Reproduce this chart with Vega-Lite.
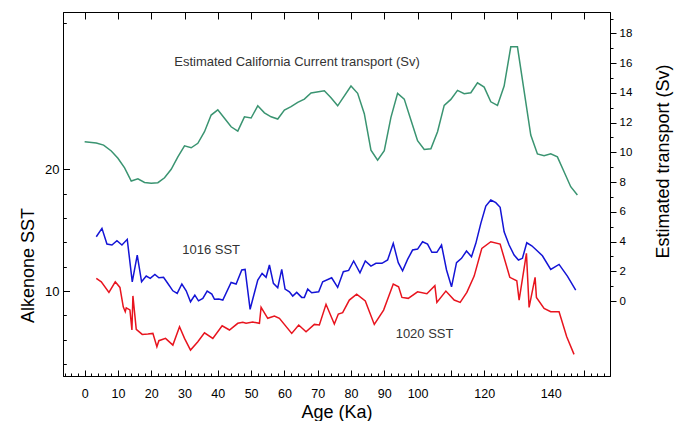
{
  "$schema": "https://vega.github.io/schema/vega-lite/v6.json",
  "width": 547,
  "height": 364,
  "autosize": {"type": "none"},
  "padding": {"left": 63, "top": 12, "right": 67, "bottom": 45},
  "background": "white",
  "view": {"stroke": "black", "strokeWidth": 1},
  "config": {"font": "Liberation Sans"},
  "datasets": {
    "transport": [
      {"age": 0, "sv": 10.71}, {"age": 3.5, "sv": 10.63}, {"age": 5.7, "sv": 10.49}, {"age": 8, "sv": 10.09},
      {"age": 10, "sv": 9.6}, {"age": 12, "sv": 8.96}, {"age": 14, "sv": 8.07}, {"age": 16, "sv": 8.22},
      {"age": 18, "sv": 7.98}, {"age": 20, "sv": 7.92}, {"age": 22, "sv": 7.96}, {"age": 24, "sv": 8.29},
      {"age": 26, "sv": 8.86}, {"age": 28, "sv": 9.7}, {"age": 30, "sv": 10.44}, {"age": 32, "sv": 10.31},
      {"age": 34, "sv": 10.61}, {"age": 36, "sv": 11.39}, {"age": 38, "sv": 12.51}, {"age": 40, "sv": 12.86},
      {"age": 42, "sv": 12.29}, {"age": 44, "sv": 11.72}, {"age": 46, "sv": 11.43}, {"age": 48, "sv": 12.39},
      {"age": 50, "sv": 12.31}, {"age": 52, "sv": 13.13}, {"age": 54, "sv": 12.66}, {"age": 56, "sv": 12.39},
      {"age": 58, "sv": 12.24}, {"age": 60, "sv": 12.84}, {"age": 62, "sv": 13.07}, {"age": 64, "sv": 13.36},
      {"age": 66, "sv": 13.58}, {"age": 68, "sv": 13.99}, {"age": 72, "sv": 14.14}, {"age": 74, "sv": 13.67},
      {"age": 76, "sv": 13.13}, {"age": 80, "sv": 14.46}, {"age": 82, "sv": 13.97}, {"age": 84, "sv": 12.6},
      {"age": 86, "sv": 10.15}, {"age": 88, "sv": 9.48}, {"age": 90, "sv": 10.11}, {"age": 92, "sv": 12.35},
      {"age": 94, "sv": 13.97}, {"age": 96, "sv": 13.58}, {"age": 98, "sv": 12.17}, {"age": 100, "sv": 10.78},
      {"age": 102, "sv": 10.2}, {"age": 104, "sv": 10.24}, {"age": 106, "sv": 11.39}, {"age": 108, "sv": 13.16},
      {"age": 110, "sv": 13.56}, {"age": 112, "sv": 14.17}, {"age": 114, "sv": 13.94}, {"age": 116, "sv": 14.01},
      {"age": 118, "sv": 14.68}, {"age": 120, "sv": 14.39}, {"age": 122, "sv": 13.4}, {"age": 124, "sv": 13.16},
      {"age": 126, "sv": 14.46}, {"age": 128, "sv": 17.1}, {"age": 130, "sv": 17.1}, {"age": 134, "sv": 11.16},
      {"age": 136, "sv": 9.89}, {"age": 138, "sv": 9.77}, {"age": 140, "sv": 9.91}, {"age": 142, "sv": 9.7},
      {"age": 144, "sv": 8.7}, {"age": 146, "sv": 7.69}, {"age": 148, "sv": 7.13}
    ],
    "sst1016": [
      {"age": 3.5, "sst": 14.46}, {"age": 5.2, "sst": 15.15}, {"age": 6.7, "sst": 13.86}, {"age": 8.2, "sst": 13.78},
      {"age": 9.7, "sst": 14.13}, {"age": 11.2, "sst": 13.78}, {"age": 12.8, "sst": 14.25}, {"age": 14.3, "sst": 10.76},
      {"age": 15.8, "sst": 12.96}, {"age": 17.1, "sst": 10.76}, {"age": 18.5, "sst": 11.23}, {"age": 19.7, "sst": 11.04},
      {"age": 21.1, "sst": 11.37}, {"age": 22.3, "sst": 11.09}, {"age": 23.7, "sst": 11.13}, {"age": 25.1, "sst": 10.58},
      {"age": 26.5, "sst": 10.02}, {"age": 27.8, "sst": 9.81}, {"age": 29.2, "sst": 10.58}, {"age": 30.5, "sst": 10.02},
      {"age": 31.8, "sst": 9.12}, {"age": 33.1, "sst": 9.67}, {"age": 34.2, "sst": 9.2}, {"age": 35.5, "sst": 9.4},
      {"age": 36.8, "sst": 10.0}, {"age": 38.2, "sst": 9.75}, {"age": 39.0, "sst": 9.32}, {"age": 40.3, "sst": 9.34},
      {"age": 41.5, "sst": 9.26}, {"age": 44.0, "sst": 10.71}, {"age": 45.5, "sst": 10.58}, {"age": 47.2, "sst": 11.73},
      {"age": 48.2, "sst": 11.78}, {"age": 49.7, "sst": 8.5}, {"age": 52.0, "sst": 10.9}, {"age": 53.3, "sst": 11.45},
      {"age": 54.5, "sst": 11.13}, {"age": 55.5, "sst": 12.14}, {"age": 56.7, "sst": 10.63}, {"age": 58.0, "sst": 10.27},
      {"age": 59.2, "sst": 11.78}, {"age": 60.2, "sst": 10.16}, {"age": 61.5, "sst": 9.94}, {"age": 62.5, "sst": 9.59},
      {"age": 63.7, "sst": 9.89}, {"age": 65.2, "sst": 9.48}, {"age": 66.0, "sst": 9.48}, {"age": 67.0, "sst": 10.16},
      {"age": 68.2, "sst": 9.86}, {"age": 70.3, "sst": 9.94}, {"age": 71.5, "sst": 10.76}, {"age": 74.2, "sst": 11.09},
      {"age": 76.0, "sst": 10.3}, {"age": 77.7, "sst": 11.59}, {"age": 79.3, "sst": 11.7}, {"age": 80.8, "sst": 12.47},
      {"age": 82.7, "sst": 11.5}, {"age": 84.3, "sst": 12.47}, {"age": 86.0, "sst": 12.05}, {"age": 87.5, "sst": 12.28},
      {"age": 89.3, "sst": 12.28}, {"age": 91.0, "sst": 12.55}, {"age": 92.7, "sst": 13.92}, {"age": 94.2, "sst": 12.33},
      {"age": 95.5, "sst": 11.67}, {"age": 97.0, "sst": 12.6}, {"age": 98.5, "sst": 13.37}, {"age": 100.0, "sst": 13.45},
      {"age": 101.5, "sst": 14.05}, {"age": 103.0, "sst": 13.86}, {"age": 104.3, "sst": 13.18}, {"age": 105.8, "sst": 13.18},
      {"age": 107.2, "sst": 13.78}, {"age": 108.7, "sst": 11.73}, {"age": 110.2, "sst": 10.35}, {"age": 111.7, "sst": 12.33},
      {"age": 113.2, "sst": 12.69}, {"age": 114.7, "sst": 13.29}, {"age": 116.2, "sst": 12.82}, {"age": 117.5, "sst": 13.92},
      {"age": 119.0, "sst": 15.56}, {"age": 120.5, "sst": 16.98}, {"age": 122.0, "sst": 17.48}, {"age": 123.5, "sst": 17.26},
      {"age": 124.8, "sst": 16.88}, {"age": 126.0, "sst": 14.87}, {"age": 127.5, "sst": 13.78}, {"age": 129.0, "sst": 12.96},
      {"age": 130.3, "sst": 12.55}, {"age": 131.5, "sst": 12.69}, {"age": 132.8, "sst": 13.97}, {"age": 134.3, "sst": 13.72},
      {"age": 136.0, "sst": 13.29}, {"age": 137.5, "sst": 12.9}, {"age": 140.0, "sst": 11.78}, {"age": 142.5, "sst": 12.19},
      {"age": 145.0, "sst": 11.23}, {"age": 147.5, "sst": 10.08}
    ],
    "sst1020": [
      {"age": 3.5, "sst": 11.04}, {"age": 5.0, "sst": 10.76}, {"age": 7.3, "sst": 9.89}, {"age": 9.2, "sst": 10.76},
      {"age": 10.6, "sst": 10.3}, {"age": 11.6, "sst": 8.7}, {"age": 12.2, "sst": 8.3}, {"age": 12.5, "sst": 8.62},
      {"age": 13.6, "sst": 8.45}, {"age": 14.2, "sst": 6.8}, {"age": 14.5, "sst": 9.6}, {"age": 15.5, "sst": 6.85},
      {"age": 17.3, "sst": 6.44}, {"age": 19.0, "sst": 6.47}, {"age": 20.5, "sst": 6.52}, {"age": 21.7, "sst": 5.42},
      {"age": 22.3, "sst": 5.92}, {"age": 24.3, "sst": 6.11}, {"age": 26.5, "sst": 5.56}, {"age": 28.5, "sst": 7.07},
      {"age": 30.0, "sst": 6.11}, {"age": 31.8, "sst": 5.15}, {"age": 34.0, "sst": 5.83}, {"age": 36.0, "sst": 6.57},
      {"age": 38.5, "sst": 6.11}, {"age": 41.3, "sst": 7.15}, {"age": 43.5, "sst": 6.8}, {"age": 46.0, "sst": 7.35},
      {"age": 47.5, "sst": 7.43}, {"age": 48.5, "sst": 7.35}, {"age": 50.5, "sst": 7.45}, {"age": 52.5, "sst": 7.35},
      {"age": 53.0, "sst": 8.66}, {"age": 55.0, "sst": 7.76}, {"age": 57.0, "sst": 7.95}, {"age": 58.5, "sst": 7.76},
      {"age": 62.2, "sst": 6.52}, {"age": 64.3, "sst": 7.21}, {"age": 66.5, "sst": 6.66}, {"age": 69.0, "sst": 7.26},
      {"age": 70.5, "sst": 7.21}, {"age": 72.5, "sst": 8.91}, {"age": 75.0, "sst": 7.29}, {"age": 76.2, "sst": 8.11},
      {"age": 77.5, "sst": 8.22}, {"age": 79.5, "sst": 9.26}, {"age": 81.7, "sst": 9.75}, {"age": 84.3, "sst": 9.18},
      {"age": 87.0, "sst": 7.26}, {"age": 89.8, "sst": 8.44}, {"age": 92.7, "sst": 10.58}, {"age": 94.3, "sst": 10.35},
      {"age": 95.3, "sst": 9.48}, {"age": 97.2, "sst": 9.4}, {"age": 100.0, "sst": 9.94}, {"age": 102.8, "sst": 9.78},
      {"age": 105.2, "sst": 10.44}, {"age": 105.8, "sst": 9.07}, {"age": 108.5, "sst": 10.0}, {"age": 111.0, "sst": 9.26},
      {"age": 112.8, "sst": 9.07}, {"age": 114.8, "sst": 9.89}, {"age": 117.0, "sst": 11.23}, {"age": 119.3, "sst": 13.51},
      {"age": 122.0, "sst": 14.05}, {"age": 124.8, "sst": 13.86}, {"age": 127.7, "sst": 11.13}, {"age": 129.8, "sst": 10.85},
      {"age": 130.5, "sst": 9.26}, {"age": 132.7, "sst": 13.1}, {"age": 133.5, "sst": 8.66}, {"age": 135.3, "sst": 11.13},
      {"age": 135.7, "sst": 9.48}, {"age": 138.0, "sst": 8.58}, {"age": 140.0, "sst": 8.3}, {"age": 142.5, "sst": 8.3},
      {"age": 144.8, "sst": 6.24}, {"age": 147.0, "sst": 4.8}
    ],
    "labels": [
      {"age": 63.8, "sst": 28.82, "text": "Estimated California Current transport (Sv)"},
      {"age": 38.0, "sst": 13.41, "text": "1016 SST"},
      {"age": 102.1, "sst": 6.49, "text": "1020 SST"}
    ]
  },
  "layer": [
    {
      "data": {"name": "transport"},
      "mark": {"type": "line", "color": "#3a9471", "strokeWidth": 1.5},
      "encoding": {
        "x": {
          "field": "age", "type": "quantitative",
          "scale": {"domain": [-6.5, 157.8], "nice": false, "zero": false},
          "axis": {
            "orient": "bottom",
            "values": [-6,-4,-2,0,2,4,6,8,10,12,14,16,18,20,22,24,26,28,30,32,34,36,38,40,42,44,46,48,50,52,54,56,58,60,62,64,66,68,70,72,74,76,78,80,82,84,86,88,90,92,94,96,98,100,102,104,106,108,110,112,114,116,118,120,122,124,126,128,130,132,134,136,138,140,142,144,146,148,150,152,154,156],
            "tickSize": {"condition": {"test": "datum.value % 10 === 0", "value": -6}, "value": -3},
            "labelExpr": "(datum.value % 10 === 0 && datum.value >= 0 && datum.value <= 140 && datum.value !== 110 && datum.value !== 130) ? datum.label : ''",
            "labelPadding": 17,
            "labelFontSize": 12.5,
            "labelColor": "#000",
            "labelFlush": false,
            "labelOverlap": false,
            "labelBound": false,
            "domainColor": "#000",
            "tickColor": "#000",
            "grid": false,
            "title": "Age (Ka)",
            "titleFontSize": 18,
            "titleFontWeight": "normal",
            "titleColor": "#000",
            "titleBaseline": "alphabetic",
            "titleY": 41.5
          }
        },
        "y": {
          "field": "sv", "type": "quantitative",
          "scale": {"domain": [-5.04, 19.44], "nice": false, "zero": false},
          "axis": {
            "orient": "right",
            "values": [0,1,2,3,4,5,6,7,8,9,10,11,12,13,14,15,16,17,18,19],
            "tickSize": {"condition": {"test": "datum.value % 2 === 0", "value": 6}, "value": 3},
            "labelExpr": "datum.value % 2 === 0 ? datum.label : ''",
            "labelPadding": 3,
            "labelFontSize": 11.5,
            "labelColor": "#000",
            "labelFlush": false,
            "labelOverlap": false,
            "labelBound": false,
            "domainColor": "#000",
            "tickColor": "#000",
            "grid": false,
            "title": "Estimated transport (Sv)",
            "titleFontSize": 18,
            "titleFontWeight": "normal",
            "titleColor": "#000",
            "titleAngle": 270,
            "titleAlign": "center",
            "titleBaseline": "alphabetic",
            "titleX": 58,
            "titleY": 149
          }
        }
      }
    },
    {
      "data": {"name": "sst1016"},
      "mark": {"type": "line", "color": "#1414d6", "strokeWidth": 1.5},
      "encoding": {
        "x": {
          "field": "age", "type": "quantitative",
          "scale": {"domain": [-6.5, 157.8], "nice": false, "zero": false},
          "axis": {
            "orient": "top",
            "values": [0,10,20,30,40,50,60,70,80,90,100,110,120,130,140,150],
            "tickSize": -7,
            "labels": false,
            "domainColor": "#000",
            "tickColor": "#000",
            "grid": false,
            "title": null
          }
        },
        "y": {
          "field": "sst", "type": "quantitative",
          "scale": {"domain": [3.02, 32.93], "nice": false, "zero": false},
          "axis": {
            "orient": "left",
            "values": [4,6,8,10,12,14,16,18,20,32],
            "tickSize": {"condition": {"test": "datum.value === 10 || datum.value === 20", "value": -6.5}, "value": -3.3},
            "labelExpr": "(datum.value === 10 || datum.value === 20) ? datum.label : ''",
            "labelPadding": 10.5,
            "labelFontSize": 13,
            "labelColor": "#000",
            "labelFlush": false,
            "labelOverlap": false,
            "labelBound": false,
            "domainColor": "#000",
            "tickColor": "#000",
            "grid": false,
            "title": "Alkenone SST",
            "titleFontSize": 18,
            "titleFontWeight": "normal",
            "titleColor": "#000",
            "titleAngle": 270,
            "titleAlign": "center",
            "titleBaseline": "alphabetic",
            "titleX": -30,
            "titleY": 253
          }
        }
      }
    },
    {
      "data": {"name": "sst1020"},
      "mark": {"type": "line", "color": "#e8141e", "strokeWidth": 1.5},
      "encoding": {
        "x": {"field": "age", "type": "quantitative", "scale": {"domain": [-6.5, 157.8], "nice": false, "zero": false}, "axis": null},
        "y": {"field": "sst", "type": "quantitative", "scale": {"domain": [3.02, 32.93], "nice": false, "zero": false}, "axis": null}
      }
    },
    {
      "data": {"name": "labels"},
      "mark": {"type": "text", "fontSize": 13, "color": "#333333", "align": "center", "baseline": "middle"},
      "encoding": {
        "x": {"field": "age", "type": "quantitative", "scale": {"domain": [-6.5, 157.8], "nice": false, "zero": false}, "axis": null},
        "y": {"field": "sst", "type": "quantitative", "scale": {"domain": [3.02, 32.93], "nice": false, "zero": false}, "axis": null},
        "text": {"field": "text"}
      }
    }
  ],
  "resolve": {"scale": {"y": "independent"}, "axis": {"x": "independent", "y": "independent"}}
}
